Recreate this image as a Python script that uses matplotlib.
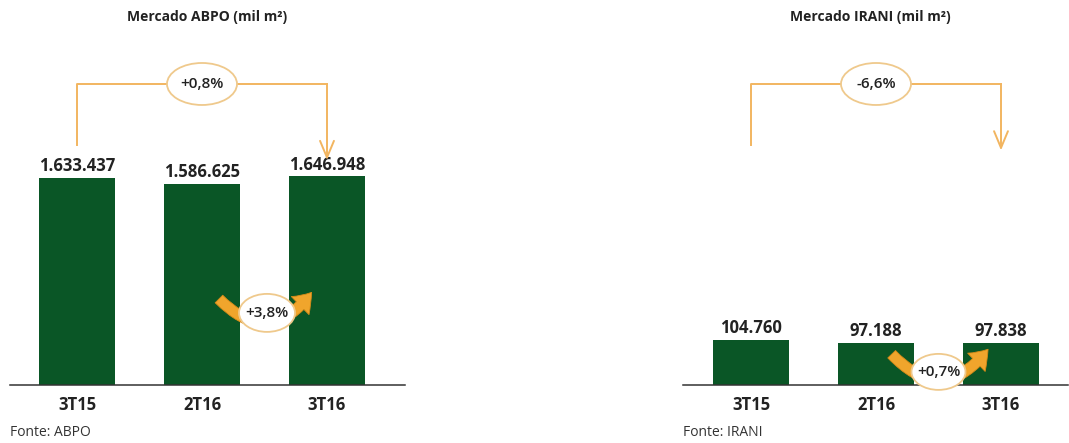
import matplotlib.pyplot as plt
from matplotlib.patches import Ellipse, FancyArrowPatch
from matplotlib.transforms import blended_transform_factory, ScaledTranslation

plt.rcParams['font.family'] = ['Open Sans', 'DejaVu Sans']

# data
categories = ['3T15', '2T16', '3T16']
abpo = [1633437, 1586625, 1646948]
irani = [104760, 97188, 97838]
abpo_labels = ['1.633.437', '1.586.625', '1.646.948']
irani_labels = ['104.760', '97.188', '97.838']
abpo_year = '+0,8%'
abpo_quarter = '+3,8%'
irani_year = '-6,6%'
irani_quarter = '+0,7%'

green = '#0A5626'
orange = '#F2B560'
text_col = '#222222'

fig = plt.figure(figsize=(10.69, 4.43), dpi=100)
W, H = 1069, 443


def pill(ax, x, y, w_px, h_px, label, size):
    bt = blended_transform_factory(ax.transData, ax.transAxes)
    tr = fig.dpi_scale_trans + ScaledTranslation(x, y, bt)
    ax.add_patch(Ellipse((0, 0), w_px / 100, h_px / 100, transform=tr,
                         fc='white', ec='#EFC98C', lw=1.3, zorder=6, clip_on=False))
    ax.text(x, y, label, transform=bt, ha='center', va='center', fontsize=size,
            fontweight='semibold', color=text_col, zorder=7)


def panel(rect, xlim, vals, labels, ymax, title, title_x, fonte, year, year_tips,
          quarter, q_tail, q_head, q_pill):
    ax = fig.add_axes(rect)
    x = range(len(categories))
    bars = ax.bar(x, vals, width=0.61, color=green, zorder=2)
    for b, lab in zip(bars, labels):
        ax.annotate(lab, (b.get_x() + b.get_width() / 2, b.get_height()),
                    xytext=(0, 2), textcoords='offset points', ha='center', va='bottom',
                    fontsize=12, fontweight='bold', color=text_col)
    ax.set_xlim(*xlim)
    ax.set_ylim(0, ymax)
    for s in ['top', 'left', 'right']:
        ax.spines[s].set_visible(False)
    ax.spines['bottom'].set_color('#333333')
    ax.spines['bottom'].set_linewidth(1.1)
    ax.set_yticks([])
    ax.set_xticks(list(x))
    ax.set_xticklabels(categories, fontsize=12, fontweight='bold', color=text_col)
    ax.tick_params(axis='x', length=0, pad=8)

    # bracket year-over-year
    bt = blended_transform_factory(ax.transData, ax.transAxes)
    top = 0.8725
    ax.plot([0, 0, 2], [year_tips[0], top, top], color=orange, lw=1.4,
            transform=bt, clip_on=False, zorder=3)
    ax.annotate('', xy=(2, year_tips[1]), xycoords=bt, xytext=(2, top), textcoords=bt,
                arrowprops=dict(arrowstyle='->,head_length=1.2,head_width=0.5',
                                color=orange, lw=1.4, shrinkA=0, shrinkB=0))
    pill(ax, 1, top, 70, 42, year, 11)

    # curved quarter arrow
    arr = FancyArrowPatch(q_tail, q_head, transform=bt,
                          connectionstyle='arc3,rad=0.6',
                          arrowstyle='simple,head_width=1.3,head_length=0.9,tail_width=0.55',
                          mutation_scale=14, fc='#F0A52C', ec='#D78A17', lw=0.6,
                          zorder=5, clip_on=False)
    ax.add_patch(arr)
    pill(ax, q_pill[0], q_pill[1], q_pill[2], q_pill[3], quarter, 11)

    fig.text(title_x / W, (H - 17) / H, title, ha='center', va='center',
             fontsize=10, fontweight='bold', color=text_col)
    fig.text(rect[0], (H - 432) / H, fonte, ha='left', va='center',
             fontsize=10, color='#333333')
    return ax


panel([10 / W, 58 / H, 395 / W, 345 / H], (-0.536, 2.624), abpo, abpo_labels,
      1633437 * 345 / 207, 'Mercado ABPO (mil m²)', 207, 'Fonte: ABPO',
      abpo_year, (0.696, 0.652), abpo_quarter,
      (1.12, 0.255), (1.89, 0.275), (1.52, 0.209, 56, 38))

panel([683 / W, 58 / H, 385 / W, 345 / H], (-0.544, 2.536), irani, irani_labels,
      104760 * 345 / 45, 'Mercado IRANI (mil m²)', 870, 'Fonte: IRANI',
      irani_year, (0.696, 0.68), irani_quarter,
      (1.11, 0.095), (1.91, 0.11), (1.50, 0.038, 54, 36))

fig.savefig('out.png', dpi=100)
